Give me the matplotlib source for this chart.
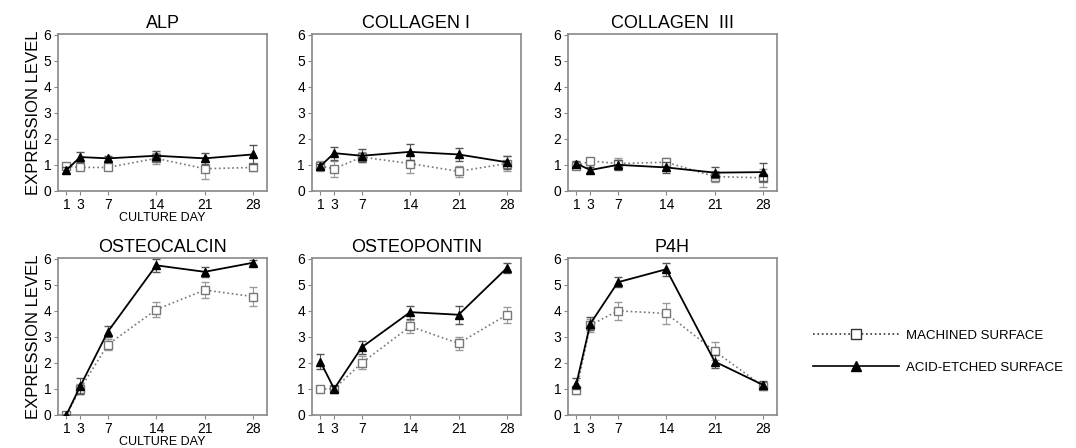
import numpy as np
import matplotlib.pyplot as plt
from matplotlib.lines import Line2D

plt.rcParams['font.family'] = ['Liberation Sans', 'DejaVu Sans']

days = [1, 3, 7, 14, 21, 28]
genes = ["ALP", "COLLAGEN I", "COLLAGEN  III", "OSTEOCALCIN", "OSTEOPONTIN", "P4H"]

# machined surface: mean and error
mach = {
    "ALP": [0.95, 0.9, 0.9, 1.25, 0.85, 0.9],
    "COLLAGEN I": [0.95, 0.85, 1.3, 1.05, 0.75, 1.05],
    "COLLAGEN  III": [0.95, 1.15, 1.05, 1.1, 0.55, 0.5],
    "OSTEOCALCIN": [0.0, 1.0, 2.7, 4.05, 4.8, 4.55],
    "OSTEOPONTIN": [1.0, 1.0, 2.0, 3.4, 2.75, 3.85],
    "P4H": [0.95, 3.45, 4.0, 3.9, 2.45, 1.1],
}
mach_err = {
    "ALP": [0.1, 0.1, 0.1, 0.2, 0.4, 0.15],
    "COLLAGEN I": [0.2, 0.3, 0.2, 0.35, 0.2, 0.3],
    "COLLAGEN  III": [0.1, 0.1, 0.2, 0.15, 0.2, 0.35],
    "OSTEOCALCIN": [0.0, 0.2, 0.2, 0.3, 0.3, 0.35],
    "OSTEOPONTIN": [0.1, 0.1, 0.25, 0.25, 0.25, 0.3],
    "P4H": [0.15, 0.25, 0.35, 0.4, 0.35, 0.15],
}

# acid-etched surface: mean and error
acid = {
    "ALP": [0.8, 1.3, 1.25, 1.35, 1.25, 1.4],
    "COLLAGEN I": [0.95, 1.45, 1.35, 1.5, 1.4, 1.1],
    "COLLAGEN  III": [1.05, 0.8, 1.0, 0.9, 0.7, 0.72],
    "OSTEOCALCIN": [0.0, 1.1, 3.2, 5.75, 5.5, 5.85],
    "OSTEOPONTIN": [2.05, 1.0, 2.6, 3.95, 3.85, 5.65],
    "P4H": [1.2, 3.5, 5.1, 5.6, 2.05, 1.15],
}
acid_err = {
    "ALP": [0.1, 0.2, 0.1, 0.2, 0.2, 0.35],
    "COLLAGEN I": [0.1, 0.25, 0.25, 0.3, 0.25, 0.25],
    "COLLAGEN  III": [0.1, 0.1, 0.2, 0.2, 0.2, 0.35],
    "OSTEOCALCIN": [0.0, 0.3, 0.2, 0.25, 0.2, 0.1],
    "OSTEOPONTIN": [0.3, 0.1, 0.25, 0.25, 0.35, 0.2],
    "P4H": [0.2, 0.25, 0.2, 0.25, 0.25, 0.15],
}

fig = plt.figure(figsize=(10.76, 4.48), dpi=100)

lefts = [0.054, 0.290, 0.528]
bottoms = [0.574, 0.074]
w, h = 0.194, 0.350
frame = "#888888"

for i, g in enumerate(genes):
    row, col = divmod(i, 3)
    ax = fig.add_axes([lefts[col], bottoms[row], w, h])
    ax.errorbar(days, mach[g], yerr=mach_err[g], color="#777777", ls=":", lw=1.2,
                marker="s", ms=6, mfc="white", mec="#777777", ecolor="#999999",
                elinewidth=0.8, capsize=3, zorder=2)
    ax.errorbar(days, acid[g], yerr=acid_err[g], color="black", ls="-", lw=1.3,
                marker="^", ms=6, mfc="black", mec="black", ecolor="#555555",
                elinewidth=0.8, capsize=3, zorder=3)
    ax.set_xlim(-0.2, 30.0)
    ax.set_ylim(0, 6.03)
    ax.set_xticks(days)
    ax.set_yticks(range(7))
    ax.tick_params(labelsize=10, length=3, color=frame, pad=2)
    for s in ax.spines.values():
        s.set_color(frame)
        s.set_linewidth(1.2)
    ax.set_title(g, fontsize=13, pad=4)
    if col == 0:
        ax.set_ylabel("EXPRESSION LEVEL", fontsize=12, labelpad=2)
        ax.set_xlabel("CULTURE DAY", fontsize=9, labelpad=0.5)

handles = [
    Line2D([], [], color="#333333", ls=":", lw=1.2, marker="s", ms=7,
           mfc="white", mec="#333333"),
    Line2D([], [], color="black", ls="-", lw=1.2, marker="^", ms=7,
           mfc="black", mec="black"),
]
labels = ["MACHINED SURFACE", "ACID-ETCHED SURFACE"]
fig.legend(handles, labels, loc="center left", bbox_to_anchor=(0.745, 0.215),
           frameon=False, fontsize=9.5, handlelength=6.5, labelspacing=1.5,
           handletextpad=0.5)

fig.savefig("out.png", dpi=100)
